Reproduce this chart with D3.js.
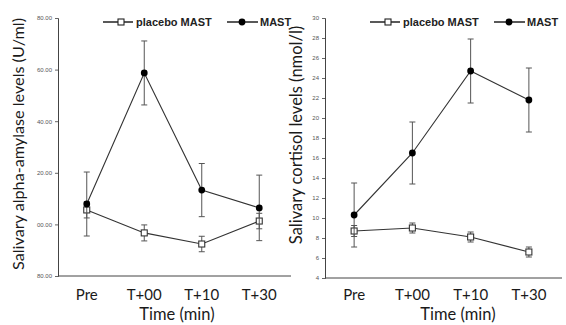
<!DOCTYPE html>
<html lang="en">
<head>
    <meta charset="UTF-8">
    <title>Salivary alpha-amylase and cortisol</title>
    <script src="https://d3js.org/d3.v7.min.js"></script>
    <style>
        body { margin: 0; background: #fff; }
        svg { display: block; }
        .ylab { font-family: Lato, "Open Sans", sans-serif; fill: #1a1a1a; }
        .tick-lab { font-family: Arial, "Liberation Sans", sans-serif; font-size: 6px; fill: #555; }
        .legend { font-family: Arial, "Liberation Sans", sans-serif; font-size: 11px; font-weight: bold; fill: #222; }
    </style>
</head>
<body>
<div id="chart"></div>
<script>
    // time points
    const categories = ["Pre", "T+00", "T+10", "T+30"];

    // salivary alpha-amylase (U/ml)
    const amylaseMast = [107.9, 158.7, 113.3, 106.4];
    const amylaseMastErr = [12.4, 12.4, 10.3, 12.7];
    const amylasePlacebo = [105.6, 96.7, 92.4, 101.3];
    const amylasePlaceboErr = [3.1, 3.1, 3.0, 3.0];
    const amylaseTicks = [80, 100, 120, 140, 160, 180];
    const amylaseTickLabels = ["80.00", "00.00", "20.00", "40.00", "60.00", "80.00"];

    // salivary cortisol (nmol/l)
    const cortisolMast = [10.3, 16.5, 24.7, 21.8];
    const cortisolMastErr = [3.2, 3.1, 3.2, 3.2];
    const cortisolPlacebo = [8.7, 9.0, 8.1, 6.6];
    const cortisolPlaceboErr = [0.55, 0.5, 0.5, 0.5];
    const cortisolTicks = [4, 6, 8, 10, 12, 14, 16, 18, 20, 22, 24, 26, 28, 30];

    const legendLabels = ["placebo MAST", "MAST"];

    const svg = d3.select("#chart").append("svg")
        .attr("width", 566)
        .attr("height", 325);

    function drawPanel(p) {
        const x = d3.scalePoint().domain(categories).range([p.left, p.plotRight]).padding(0.5);
        const y = d3.scaleLinear().domain(p.domain).range([p.bottom, p.top]);
        const g = svg.append("g");

        // y axis
        const yAxis = d3.axisLeft(y).tickValues(p.ticks).tickSize(3).tickPadding(3)
            .tickFormat((d, i) => p.tickLabels ? p.tickLabels[i] : d);
        const ya = g.append("g").attr("transform", `translate(${p.left},0)`).call(yAxis);
        ya.select(".domain").attr("stroke", "#444");
        ya.selectAll(".tick line").attr("stroke", "#666");
        ya.selectAll(".tick text").attr("class", "tick-lab").attr("font-size", null).attr("font-family", null).attr("fill", null);

        // x axis line
        g.append("line")
            .attr("x1", p.left).attr("x2", p.axisRight)
            .attr("y1", p.bottom).attr("y2", p.bottom)
            .attr("stroke", "#444");

        // x tick labels
        g.selectAll(".xlab").data(categories).join("text")
            .attr("class", "ylab")
            .attr("x", d => x(d)).attr("y", 300)
            .attr("text-anchor", "middle")
            .attr("font-size", 15)
            .text(d => d);

        g.append("text").attr("class", "ylab")
            .attr("x", p.titleX).attr("y", 320)
            .attr("text-anchor", "middle").attr("font-size", 16.5)
            .text("Time (min)");

        // y title
        g.append("text").attr("class", "ylab")
            .attr("transform", `translate(${p.yTitleX},${p.yTitleY}) rotate(-90)`)
            .attr("text-anchor", "middle")
            .attr("font-size", p.yTitleSize)
            .text(p.yTitle);

        const series = [
            { values: p.placebo, err: p.placeboErr, kind: "square" },
            { values: p.mast, err: p.mastErr, kind: "circle" }
        ];

        series.forEach(s => {
            const pts = categories.map((c, i) => ({ c, v: s.values[i], e: s.err[i] }));
            // error bars
            const eb = g.append("g").attr("stroke", "#555").attr("stroke-width", 1);
            eb.selectAll(".v").data(pts).join("line")
                .attr("x1", d => x(d.c)).attr("x2", d => x(d.c))
                .attr("y1", d => y(d.v - d.e)).attr("y2", d => y(d.v + d.e));
            eb.selectAll(".t").data(pts.flatMap(d => [d.v - d.e, d.v + d.e].map(v => ({ c: d.c, v })))).join("line")
                .attr("x1", d => x(d.c) - 3).attr("x2", d => x(d.c) + 3)
                .attr("y1", d => y(d.v)).attr("y2", d => y(d.v));
            // line
            g.append("path").datum(pts)
                .attr("fill", "none").attr("stroke", "#333").attr("stroke-width", 1.1)
                .attr("d", d3.line().x(d => x(d.c)).y(d => y(d.v)));
            // markers
            if (s.kind === "circle") {
                g.selectAll(".m").data(pts).join("circle")
                    .attr("cx", d => x(d.c)).attr("cy", d => y(d.v)).attr("r", 3.4)
                    .attr("fill", "#000");
            } else {
                g.selectAll(".m").data(pts).join("rect")
                    .attr("x", d => x(d.c) - 3).attr("y", d => y(d.v) - 3)
                    .attr("width", 6).attr("height", 6)
                    .attr("fill", "#fff").attr("stroke", "#333").attr("stroke-width", 1.1);
            }
        });

        // legend
        const lg = g.append("g").attr("transform", `translate(${p.legendX},22)`);
        lg.append("line").attr("x1", 0).attr("x2", 30).attr("stroke", "#222").attr("stroke-width", 1.5);
        lg.append("rect").attr("x", 15).attr("y", -3).attr("width", 6).attr("height", 6)
            .attr("fill", "#fff").attr("stroke", "#222").attr("stroke-width", 1.1);
        lg.append("text").attr("class", "legend").attr("x", 33).attr("y", 4).text(legendLabels[0]);
        lg.append("line").attr("x1", 124).attr("x2", 155).attr("stroke", "#222").attr("stroke-width", 1.5);
        lg.append("circle").attr("cx", 139).attr("cy", 0).attr("r", 3.4).attr("fill", "#000");
        lg.append("text").attr("class", "legend").attr("x", 157).attr("y", 4).text(legendLabels[1]);
    }

    drawPanel({
        left: 58, plotRight: 288, axisRight: 291, top: 18, bottom: 276,
        domain: [80, 180], ticks: amylaseTicks, tickLabels: amylaseTickLabels,
        mast: amylaseMast, mastErr: amylaseMastErr,
        placebo: amylasePlacebo, placeboErr: amylasePlaceboErr,
        titleX: 177, yTitleX: 24, yTitleY: 144, yTitleSize: 16.2,
        yTitle: "Salivary alpha-amylase levels (U/ml)",
        legendX: 103
    });

    drawPanel({
        left: 325, plotRight: 558, axisRight: 562, top: 18, bottom: 278,
        domain: [4, 30], ticks: cortisolTicks, tickLabels: null,
        mast: cortisolMast, mastErr: cortisolMastErr,
        placebo: cortisolPlacebo, placeboErr: cortisolPlaceboErr,
        titleX: 458, yTitleX: 302, yTitleY: 135, yTitleSize: 16.5,
        yTitle: "Salivary cortisol levels (nmol/l)",
        legendX: 370
    });
</script>
</body>
</html>
